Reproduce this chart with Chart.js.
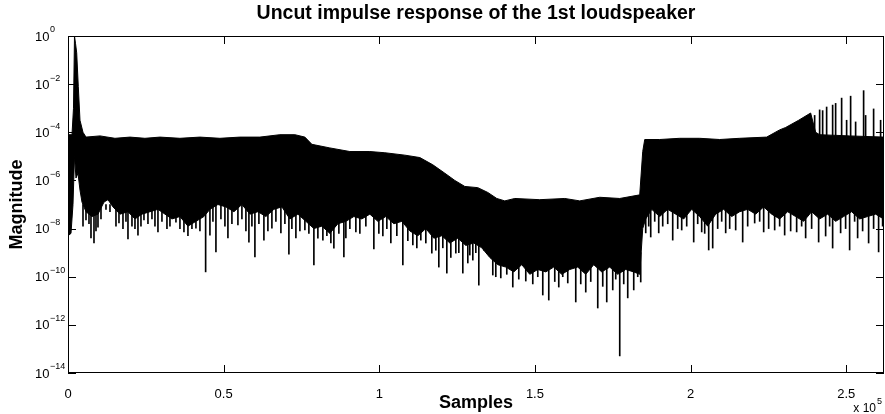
<!DOCTYPE html>
<html>
<head>
<meta charset="utf-8">
<script src="https://cdn.jsdelivr.net/npm/chart.js@4.4.1/dist/chart.umd.min.js"></script>
<style>
  html, body { margin: 0; padding: 0; background: #fff; }
  canvas { display: block; }
</style>
</head>
<body>
<canvas id="irChart" width="885" height="414"></canvas>
<script>
// axis ticks
const xTickValues = [0, 50000, 100000, 150000, 200000, 250000];
const yTickExponents = [0, -2, -4, -6, -8, -10, -12, -14];
const xMax = 262144;

// upper edge of the dense trace (sample index, log10 magnitude)
const upperSamples = [0, 1284, 1766, 2087, 2408, 2794, 3307, 3853, 4817, 5780, 10275, 15092, 19908, 24725,
  29541, 35963, 42385, 48807, 55229, 61651, 68073, 72890, 76101, 78348, 84128, 90550, 96972, 101789,
  108211, 113027, 117202, 121055, 124266, 127477, 131651, 134862, 137752, 140321, 143532, 151559,
  159587, 164403, 170825, 177247, 183669, 184632, 185275, 190091, 196513, 202935, 209357, 215779,
  224449, 228623, 230549, 234724, 238577, 240183, 241467, 251100, 262018];
const upperExp = [-4.1, -4.1, -3.0, 0.0, -0.3, -0.7, -2.1, -3.5, -4.0, -4.2, -4.15, -4.25, -4.2, -4.25,
  -4.2, -4.25, -4.2, -4.25, -4.2, -4.2, -4.1, -4.1, -4.2, -4.5, -4.65, -4.8, -4.8, -4.85,
  -4.95, -5.05, -5.35, -5.7, -6.0, -6.25, -6.3, -6.5, -6.75, -6.85, -6.75, -6.8,
  -6.75, -6.85, -6.7, -6.75, -6.6, -4.8, -4.3, -4.3, -4.25, -4.25, -4.3, -4.25,
  -4.2, -3.9, -3.8, -3.5, -3.2, -4.0, -4.1, -4.15, -4.2];

// lower edge of the solid part of the trace
const lowerSamples = [0, 963, 1606, 2087, 2569, 3211, 3853, 4495, 5780, 7706, 9633, 11560, 12844, 14450,
  16697, 19266, 21514, 23761, 26330, 28899, 31147, 33394, 35963, 38532, 41101, 43670, 45596, 48165,
  50734, 53303, 55871, 58440, 61009, 63578, 66147, 68715, 71284, 73853, 76422, 78991, 81559, 84128,
  86697, 89266, 91835, 94403, 96972, 99541, 102110, 104679, 107247, 109816, 112385, 114954, 117523,
  120091, 122660, 125229, 127798, 130367, 132935, 135504, 138073, 140642, 143211, 145779, 148348,
  150917, 153486, 156055, 158623, 161192, 163761, 166330, 168899, 171467, 174036, 176605, 179174,
  181743, 183669, 184632, 185596, 187522, 190091, 192660, 195229, 197798, 200366, 202935, 205504,
  208073, 210642, 213210, 215779, 218348, 220917, 223486, 226054, 228623, 231192, 233761, 236330,
  238898, 241467, 244036, 246605, 249174, 251742, 254311, 256880, 259449, 262018];
const lowerExp = [-8.3, -8.2, -7.0, -5.0, -5.9, -5.7, -6.4, -6.9, -7.3, -7.5, -7.4, -6.9, -6.8, -7.1,
  -7.4, -7.3, -7.6, -7.4, -7.3, -7.2, -7.4, -7.6, -7.5, -7.9, -7.7, -7.5, -7.2, -7.0,
  -7.1, -7.3, -7.0, -7.4, -7.3, -7.5, -7.2, -7.1, -7.6, -7.4, -7.7, -8.0, -7.9, -8.2,
  -7.8, -7.7, -7.5, -7.6, -7.4, -7.7, -7.5, -7.8, -7.7, -8.1, -8.3, -8.0, -8.4,
  -8.3, -8.6, -8.4, -8.7, -8.6, -8.8, -9.2, -9.5, -9.6, -9.8, -9.5, -9.9,
  -9.7, -9.8, -9.6, -9.9, -9.7, -9.6, -9.9, -9.5, -9.8, -9.6, -9.9, -9.7,
  -9.8, -9.9, -8.0, -7.6, -7.2, -7.5, -7.2, -7.4, -7.6, -7.2, -7.5, -7.9,
  -7.4, -7.2, -7.5, -7.3, -7.2, -7.4, -7.1, -7.4, -7.6, -7.3, -7.5, -7.7,
  -7.3, -7.6, -7.4, -7.7, -7.5, -7.3, -7.6, -7.5, -7.4, -7.6];

// downward dips below the solid part
const dipSamples = [5780, 7385, 8349, 9633, 16376, 19266, 22477, 24404, 28899, 34679, 37248, 41101, 44215,
  45596, 47523, 51376, 54587, 58119, 60046, 62936, 65504, 68394, 70963, 73211, 76101, 78991, 81881,
  85413, 88624, 89266, 92477, 98257, 101147, 103715, 107569, 110780, 113348, 116880, 119128, 121697,
  124587, 126835, 128440, 130046, 131972, 133578, 185596, 187201, 189770, 194266, 197155, 201009,
  203577, 205825, 207110, 211284, 214495, 216743, 220596, 223486, 227018, 230229, 234082, 236972,
  241146, 243394, 245642, 248211, 251100, 253669, 257201, 260412,
  4817, 6743, 8991, 10596, 12202, 13486, 15413, 17660, 18624, 20550, 21514, 23440, 25688, 26972,
  27936, 30183, 31789, 32752, 35963, 38532, 39817, 42385, 46560, 49128, 50413, 52660, 55871, 57156,
  59082, 61330, 64220, 66789, 69679, 71926, 74495, 77385, 80275, 83165, 84449, 87018, 90550, 93761,
  95688, 99862, 102431, 105642, 109174, 112064, 114954, 118165, 120413, 122981, 125550, 129082, 131009,
  186559, 188486, 191055, 192660, 195871, 198761, 202293, 204541, 208715, 210000, 212569, 218348,
  222201, 225091, 228623, 232155, 235688, 238898, 244678, 249816, 252706, 255275, 258807, 261697];
const dipExp = [-7.64, -8.39, -8.6, -7.94, -7.77, -8.43, -8.27, -7.64, -8.14, -7.73, -8.14, -7.98, -9.8,
  -8.27, -8.97, -8.39, -7.85, -8.56, -9.18, -8.48, -7.98, -8.18, -9.06, -8.39, -8.06, -9.51, -8.48,
  -8.81, -9.18, -8.39, -8.14, -8.85, -8.31, -8.6, -9.51, -8.68, -8.48, -9.02, -9.6, -9.85,
  -9.02, -9.85, -9.43, -9.31, -10.35, -8.9, -8.18, -8.35, -8.18, -8.48, -8.06, -8.56,
  -8.14, -8.89, -8.81, -8.18, -8.06, -8.56, -7.77, -8.14, -8.06, -8.27, -8.14, -8.39,
  -8.56, -8.31, -8.81, -8.18, -8.89, -8.39, -8.6, -8.97,
  -7.9, -7.8, -8.1, -7.6, -7.2, -7.3, -7.9, -8.0, -7.7, -7.9, -8.0, -7.9, -7.8, -7.6,
  -7.9, -7.7, -8.0, -7.9, -8.0, -8.3, -8.0, -8.1, -7.7, -7.6, -7.9, -7.8, -7.6, -8.1,
  -7.9, -7.8, -8.1, -7.7, -7.8, -8.0, -8.1, -8.2, -8.4, -8.3, -8.6, -8.2, -8.0, -8.2,
  -7.9, -8.2, -8.0, -8.3, -8.5, -8.8, -8.6, -8.9, -8.8, -9.2, -9.0, -9.1, -9.0,
  -7.9, -7.7, -7.9, -7.8, -8.0, -7.9, -7.8, -8.2, -8.0, -7.7, -8.0, -7.9,
  -7.7, -8.0, -7.9, -8.1, -7.9, -8.0, -7.9, -8.0, -7.7, -8.1, -8.0, -7.9];
const dipFromExp = -7.0;

// dips in the quiet stretch before the jump
const quietDipSamples = [136468, 139036, 142890, 147064, 152523, 154449, 157660, 160550, 163119, 166330,
  170183, 173073, 175000, 177247, 179816, 181743, 183990,
  137431, 140963, 144817, 149312, 150917, 156376, 158945, 164724, 167935, 171789, 175963, 178532, 183028];
const quietDipExp = [-9.93, -10.05, -10.43, -10.18, -10.76, -10.97, -10.43, -10.26, -11.05, -10.64,
  -11.3, -11.05, -10.55, -13.29, -10.88, -10.55, -10.22,
  -10.0, -9.9, -10.1, -10.3, -10.0, -10.2, -10.0, -10.3, -10.2, -10.4, -10.1, -10.3, -10.0];
const quietDipFromExp = -9.0;

// isolated peaks near the end
const peakSamples = [238256, 239862, 241467, 242431, 243715, 245642, 246605, 248531, 250137, 251421,
  253027, 255596, 256238, 258807, 261055];
const peakExp = [-3.35, -3.3, -3.07, -3.1, -2.95, -2.87, -2.8, -2.58, -3.5, -2.5, -3.57, -2.27, -3.3,
  -3.03, -3.5];
const peakFromExp = -4.5;

const FONT = "'Liberation Sans', Arial, Helvetica, sans-serif";

function pts(xs, es) {
  return xs.map((x, i) => ({ x: x, y: Math.pow(10, es[i]) }));
}
function bars(xs, es, fromExp) {
  return xs.map((x, i) => ({ x: x, y: [Math.pow(10, es[i]), Math.pow(10, fromExp)] }));
}

// closed outline: along the upper edge, back along the lower edge
const bodyOutline = pts(upperSamples, upperExp).concat(pts(lowerSamples, lowerExp).reverse());

const barStyle = { type: 'bar', backgroundColor: '#000', borderWidth: 0, barThickness: 1, grouped: false };

const frameTicks = {
  id: 'frameTicks',
  afterDraw(chart) {
    const { ctx, chartArea: a, scales } = chart;
    const xs = scales.x, ys = scales.y;
    ctx.save();
    ctx.strokeStyle = '#000';
    ctx.lineWidth = 1;
    ctx.strokeRect(a.left + 0.5, a.top + 0.5, a.right - a.left - 1, a.bottom - a.top - 1);
    ctx.beginPath();
    xTickValues.forEach((v) => {
      const px = Math.round(xs.getPixelForValue(v)) + 0.5;
      ctx.moveTo(px, a.bottom); ctx.lineTo(px, a.bottom - 8);
      ctx.moveTo(px, a.top); ctx.lineTo(px, a.top + 8);
    });
    yTickExponents.forEach((e) => {
      const py = Math.round(ys.getPixelForValue(Math.pow(10, e))) + 0.5;
      ctx.moveTo(a.left, py); ctx.lineTo(a.left + 8, py);
      ctx.moveTo(a.right, py); ctx.lineTo(a.right - 8, py);
    });
    ctx.stroke();

    // y tick labels: 10 with superscript exponent
    ctx.fillStyle = '#000';
    ctx.textAlign = 'left';
    ctx.textBaseline = 'middle';
    yTickExponents.forEach((e) => {
      const py = ys.getPixelForValue(Math.pow(10, e));
      ctx.font = '13px ' + FONT;
      ctx.fillText('10', 35, py + 1);
      ctx.font = '9px ' + FONT;
      ctx.fillText(e === 0 ? '0' : '\u2212' + Math.abs(e), 50, py - 6);
    });

    // axis multiplier
    ctx.textAlign = 'right';
    ctx.textBaseline = 'alphabetic';
    ctx.font = '12px ' + FONT;
    ctx.fillText('x 10', 876, 412);
    ctx.textAlign = 'left';
    ctx.font = '9px ' + FONT;
    ctx.fillText('5', 877, 404);
    ctx.restore();
  }
};

new Chart(document.getElementById('irChart').getContext('2d'), {
  type: 'line',
  data: {
    datasets: [
      { data: bodyOutline, borderColor: '#000', borderWidth: 1, pointRadius: 0,
        fill: 'shape', backgroundColor: '#000' },
      Object.assign({ data: bars(dipSamples, dipExp, dipFromExp) }, barStyle),
      Object.assign({ data: bars(quietDipSamples, quietDipExp, quietDipFromExp) }, barStyle),
      Object.assign({ data: bars(peakSamples, peakExp, peakFromExp) }, barStyle)
    ]
  },
  options: {
    responsive: false,
    animation: false,
    events: [],
    layout: { padding: { left: 0, right: 1, top: 0, bottom: 0 } },
    elements: { line: { tension: 0 } },
    plugins: {
      legend: { display: false },
      tooltip: { enabled: false },
      title: {
        display: true,
        fullSize: false,
        text: 'Uncut impulse response of the 1st loudspeaker',
        color: '#000',
        font: { family: FONT, size: 19.5, weight: 'bold' },
        padding: { top: 2, bottom: 10.6 }
      }
    },
    scales: {
      x: {
        type: 'linear',
        min: 0,
        max: xMax,
        offset: false,
        grid: { display: false },
        border: { display: false },
        afterBuildTicks: (s) => { s.ticks = xTickValues.map((v) => ({ value: v })); },
        afterFit: (s) => { s.height = 41; },
        ticks: {
          color: '#000',
          padding: 6,
          maxRotation: 0,
          font: { family: FONT, size: 13 },
          callback: (v) => String(v / 1e5)
        },
        title: {
          display: true,
          text: 'Samples',
          color: '#000',
          font: { family: FONT, size: 18, weight: 'bold' },
          padding: { top: 0, bottom: 0 }
        }
      },
      y: {
        type: 'logarithmic',
        min: 1e-14,
        max: 1,
        grid: { display: false },
        border: { display: false },
        afterBuildTicks: (s) => { s.ticks = yTickExponents.map((e) => ({ value: Math.pow(10, e) })); },
        afterFit: (s) => { s.width = 68; },
        ticks: { display: false },
        title: {
          display: true,
          text: 'Magnitude',
          color: '#000',
          font: { family: FONT, size: 18, weight: 'bold' },
          padding: { top: 6, bottom: 0 }
        }
      }
    }
  },
  plugins: [frameTicks]
});
</script>
</body>
</html>
